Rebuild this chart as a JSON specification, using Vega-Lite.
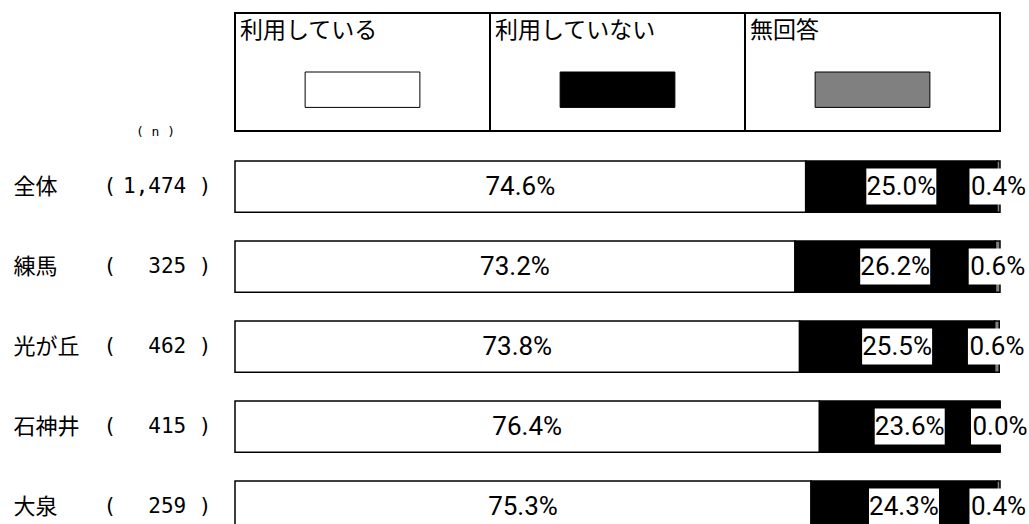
{
  "$schema": "https://vega.github.io/schema/vega-lite/v6.json",
  "background": "white",
  "padding": {"left": 13, "top": 12, "right": 0, "bottom": 0},
  "bounds": "flush",
  "spacing": 15.6,
  "config": {"view": {"stroke": null}, "font": "Noto Sans CJK JP"},
  "datasets": {
    "answers": [
      {"group": "全体 (1,474)", "cat": "利用している", "code": 1, "pct": 0.746},
      {"group": "全体 (1,474)", "cat": "利用していない", "code": 2, "pct": 0.250},
      {"group": "全体 (1,474)", "cat": "無回答", "code": 3, "pct": 0.004},
      {"group": "練馬 (325)", "cat": "利用している", "code": 1, "pct": 0.732},
      {"group": "練馬 (325)", "cat": "利用していない", "code": 2, "pct": 0.262},
      {"group": "練馬 (325)", "cat": "無回答", "code": 3, "pct": 0.006},
      {"group": "光が丘 (462)", "cat": "利用している", "code": 1, "pct": 0.738},
      {"group": "光が丘 (462)", "cat": "利用していない", "code": 2, "pct": 0.255},
      {"group": "光が丘 (462)", "cat": "無回答", "code": 3, "pct": 0.006},
      {"group": "石神井 (415)", "cat": "利用している", "code": 1, "pct": 0.764},
      {"group": "石神井 (415)", "cat": "利用していない", "code": 2, "pct": 0.236},
      {"group": "石神井 (415)", "cat": "無回答", "code": 3, "pct": 0.000},
      {"group": "大泉 (259)", "cat": "利用している", "code": 1, "pct": 0.753},
      {"group": "大泉 (259)", "cat": "利用していない", "code": 2, "pct": 0.243},
      {"group": "大泉 (259)", "cat": "無回答", "code": 3, "pct": 0.004}
    ],
    "legend": [
      {"cat": "利用している", "code": 1},
      {"cat": "利用していない", "code": 2},
      {"cat": "無回答", "code": 3}
    ]
  },
  "vconcat": [
    {
      "width": 765,
      "height": 118,
      "data": {"name": "legend"},
      "encoding": {
        "x": {"field": "cat", "type": "nominal", "sort": ["利用している", "利用していない", "無回答"], "scale": {"paddingInner": 0, "paddingOuter": 0}, "axis": null}
      },
      "layer": [
        {
          "mark": {"type": "bar", "fill": "white", "stroke": "black", "strokeWidth": 2},
          "encoding": {
            "y": {"datum": 0, "type": "quantitative", "scale": {"domain": [0, 1], "nice": false, "zero": false}, "axis": null},
            "y2": {"datum": 1}
          }
        },
        {
          "mark": {"type": "text", "align": "left", "baseline": "middle", "dx": 5, "fontSize": 23, "font": "Noto Sans CJK JP", "color": "black"},
          "encoding": {
            "x": {"field": "cat", "type": "nominal", "sort": ["利用している", "利用していない", "無回答"], "bandPosition": 0, "axis": null},
            "y": {"datum": 0.85, "type": "quantitative"},
            "text": {"field": "cat"}
          }
        },
        {
          "mark": {"type": "bar", "width": {"band": 0.45}, "stroke": "black", "strokeWidth": 1},
          "encoding": {
            "y": {"datum": 0.2, "type": "quantitative"},
            "y2": {"datum": 0.5},
            "color": {"field": "cat", "type": "nominal", "scale": {"domain": ["利用している", "利用していない", "無回答"], "range": ["#ffffff", "#000000", "#808080"]}, "legend": null}
          }
        }
      ]
    },
    {
      "width": 765,
      "height": 400,
      "data": {"name": "answers"},
      "encoding": {
        "order": {"field": "code", "type": "quantitative"}
      },
      "layer": [
        {
          "mark": {"type": "bar", "stroke": "black", "strokeWidth": 1.5},
          "encoding": {
            "x": {"field": "pct", "type": "quantitative", "stack": "zero", "scale": {"domain": [0, 1], "nice": false}, "axis": null},
            "y": {"field": "group", "type": "nominal", "sort": null, "scale": {"paddingInner": 0.36, "paddingOuter": 0.18},
              "axis": {"orient": "left", "domain": false, "ticks": false, "grid": false, "title": null, "labelExpr": "split(datum.value, ' (')[0]", "labelAlign": "left", "labelPadding": 222, "labelFont": "Noto Sans CJK JP", "labelFontSize": 22, "labelColor": "black"}},
            "color": {"field": "cat", "type": "nominal", "scale": {"domain": ["利用している", "利用していない", "無回答"], "range": ["#ffffff", "#000000", "#808080"]}, "legend": null}
          }
        },
        {
          "mark": {"type": "point", "filled": true, "fill": "white", "size": 4, "strokeWidth": 0, "opacity": 1},
          "encoding": {
            "x": {"field": "pct", "type": "quantitative", "stack": "zero", "bandPosition": 0.5},
            "y": {"field": "group", "type": "nominal", "sort": null,
              "axis": {"orient": "left", "domain": false, "ticks": false, "grid": false, "title": null, "labelExpr": "'('", "labelAlign": "left", "labelPadding": 132, "labelFont": "DejaVu Sans Mono", "labelFontSize": 21, "labelColor": "black"}},
            "shape": {"condition": {"test": "datum.cat === '無回答'", "value": "M-29,-18H29V18H-29Z"}, "value": "M-35,-18H35V18H-35Z"},
            "fillOpacity": {"condition": {"test": "datum.cat === '利用している'", "value": 0}, "value": 1}
          }
        },
        {
          "mark": {"type": "text", "fontSize": 26, "font": "Roboto", "baseline": "middle", "color": "black"},
          "encoding": {
            "x": {"field": "pct", "type": "quantitative", "stack": "zero", "bandPosition": 0.5},
            "y": {"field": "group", "type": "nominal", "sort": null,
              "axis": {"orient": "left", "domain": false, "ticks": false, "grid": false, "labelExpr": "replace(split(datum.value, '(')[1], ')', '') + '\u00a0)'", "labelAlign": "right", "labelPadding": 24, "labelFont": "DejaVu Sans Mono", "labelFontSize": 21, "labelColor": "black",
                "title": "( n )", "titleAngle": 0, "titleX": -80, "titleY": -15.6, "titleAlign": "center", "titleBaseline": "middle", "titleFont": "DejaVu Sans Mono", "titleFontSize": 13, "titleFontWeight": "normal", "titleColor": "black"}},
            "text": {"field": "pct", "type": "quantitative", "format": ".1%"}
          }
        }
      ],
      "resolve": {"axis": {"y": "independent"}}
    }
  ]
}
